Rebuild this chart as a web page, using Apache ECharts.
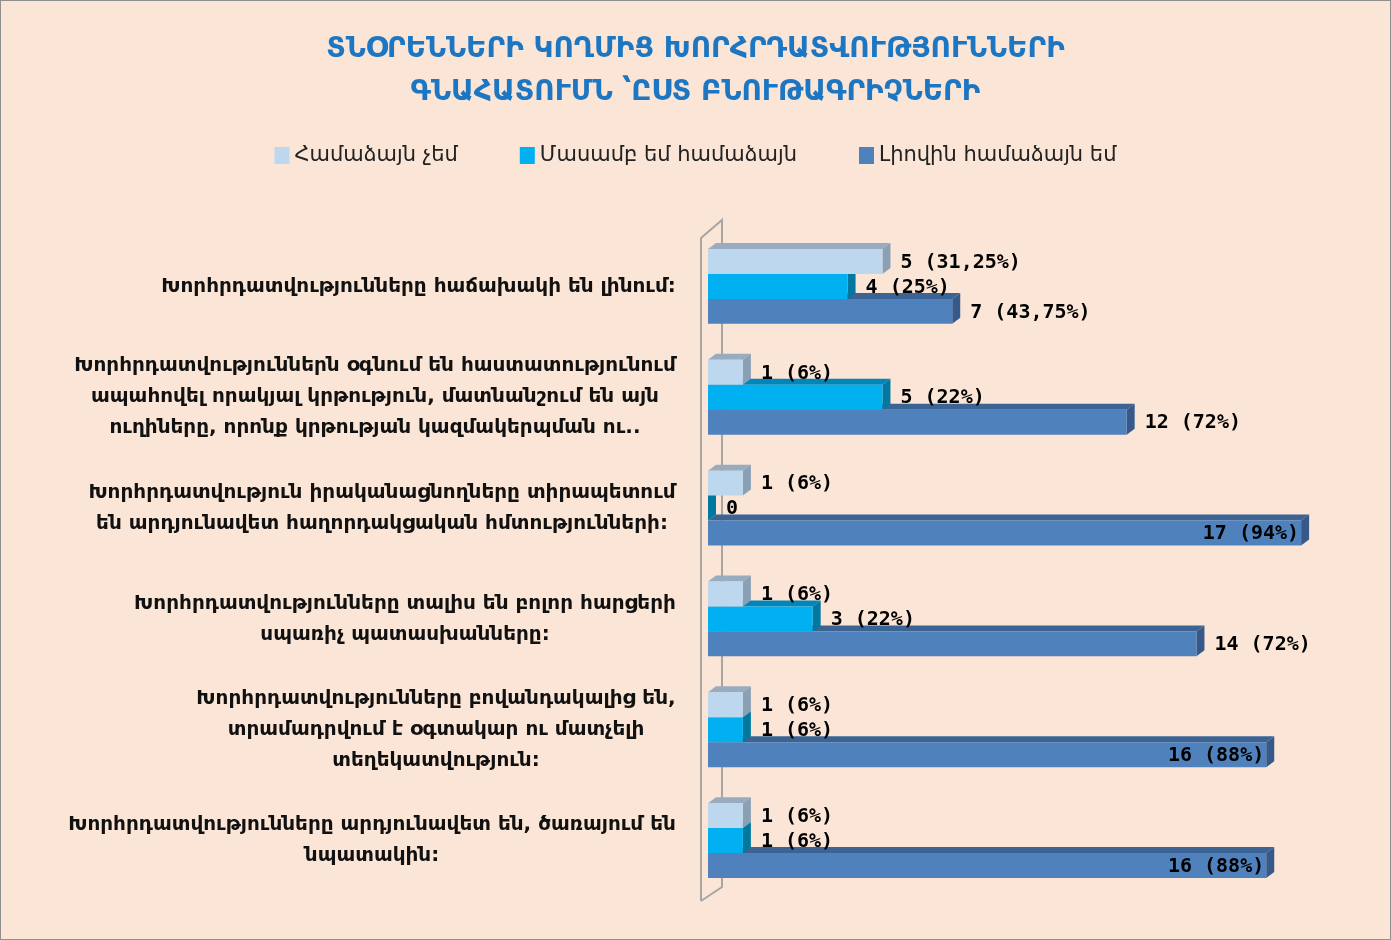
<!DOCTYPE html>
<html>
<head>
<meta charset="utf-8">
<script src="https://cdn.jsdelivr.net/npm/echarts@6/dist/echarts.min.js"></script>
<style>
  html, body { margin: 0; padding: 0; }
  #chart {
    width: 1391px; height: 940px;
    box-sizing: border-box;
    border: 1px solid #8f8f8f;
    background: #fbe5d6;
  }
</style>
</head>
<body>
<div id="chart"></div>
<script>
  // data
  const categories = [
    'Խորհրդատվությունները հաճախակի են լինում:',
    'Խորհրդատվություններն օգնում են հաստատությունում\nապահովել որակյալ կրթություն, մատնանշում են այն\nուղիները, որոնք կրթության կազմակերպման ու..',
    'Խորհրդատվություն իրականացնողները տիրապետում\nեն արդյունավետ հաղորդակցական հմտությունների:',
    'Խորհրդատվությունները տալիս են բոլոր հարցերի\nսպառիչ պատասխանները:',
    'Խորհրդատվությունները բովանդակալից են,\nտրամադրվում է օգտակար ու մատչելի\nտեղեկատվություն:',
    'Խորհրդատվությունները արդյունավետ են, ծառայում են\nնպատակին:'
  ];
  const seriesNames = ['Համաձայն չեմ', 'Մասամբ եմ համաձայն', 'Լիովին համաձայն եմ'];
  const disagree = [5, 1, 1, 1, 1, 1];
  const partly = [4, 5, 0, 3, 1, 1];
  const fully = [7, 12, 17, 14, 16, 16];
  const disagreeLabels = ['5 (31,25%)', '1 (6%)', '1 (6%)', '1 (6%)', '1 (6%)', '1 (6%)'];
  const partlyLabels = ['4 (25%)', '5 (22%)', '0', '3 (22%)', '1 (6%)', '1 (6%)'];
  const fullyLabels = ['7 (43,75%)', '12 (72%)', '17 (94%)', '14 (72%)', '16 (88%)', '16 (88%)'];

  const ARM = "'DejaVu Sans', 'Noto Sans', sans-serif";
  const NUM = "'DejaVu Sans Mono', monospace";
  const DX = 8, DY = 6;

  // widths of category label blocks, so every line can be centred inside its block
  const ctx = document.createElement('canvas').getContext('2d');
  ctx.font = "bold 20px 'DejaVu Sans'";
  const rich = {};
  categories.forEach((c, i) => {
    const w = Math.max(...c.split('\n').map(l => ctx.measureText(l).width));
    rich['c' + i] = {
      width: Math.ceil(w) + 2, align: 'center',
      fontFamily: ARM, fontSize: 20, fontWeight: 'bold',
      lineHeight: 31, color: '#111'
    };
  });

  function makeRender(slot, colors, labels) {
    return function (params, api) {
      const v = api.value(0), c = api.value(1);
      const p0 = api.coord([0, c]);
      const p1 = api.coord([v, c]);
      const band = api.size([0, 1])[1];
      const h = band * 0.225;
      const y = p0[1] - 1.5 * h + slot * h;
      const x0 = p0[0], x1 = p1[0];
      const txt = labels[params.dataIndex];
      const inside = slot === 2 && v >= 15;
      return {
        type: 'group',
        children: [
          { type: 'polygon', shape: { points: [[x0, y], [x0 + DX, y - DY], [x1 + DX, y - DY], [x1, y]] },
            style: { fill: colors[1] } },
          { type: 'polygon', shape: { points: [[x1, y], [x1 + DX, y - DY], [x1 + DX, y + h - DY], [x1, y + h]] },
            style: { fill: colors[2] } },
          { type: 'rect', shape: { x: x0, y: y, width: x1 - x0, height: h },
            style: { fill: colors[0] } },
          { type: 'text', z2: 10,
            style: {
              text: txt,
              x: inside ? x1 - 2 : x1 + DX + 10,
              y: y + h / 2 + 1,
              align: inside ? 'right' : 'left',
              verticalAlign: 'middle',
              fontFamily: NUM, fontWeight: 'bold', fontSize: 20, fill: '#000'
            } }
        ]
      };
    };
  }

  const palette = [
    ['#bdd7ee', '#98abbf', '#8aa0b5'],
    ['#00b0f0', '#0086b8', '#00789f'],
    ['#4f81bd', '#3b6494', '#37598a']
  ];
  const values = [disagree, partly, fully];
  const labelSets = [disagreeLabels, partlyLabels, fullyLabels];

  const myChart = echarts.init(document.getElementById('chart'));

  const GL = 707, GT = 230, GH = 665;

  myChart.setOption({
    backgroundColor: 'transparent',
    title: {
      text: 'ՏՆՕՐԵՆՆԵՐԻ ԿՈՂՄԻՑ ԽՈՐՀՐԴԱՏՎՈՒԹՅՈՒՆՆԵՐԻ\nԳՆԱՀԱՏՈՒՄՆ ՝ԸՍՏ ԲՆՈՒԹԱԳՐԻՉՆԵՐԻ',
      left: 'center',
      top: 22,
      textStyle: {
        fontFamily: ARM, fontSize: 28, fontWeight: 'bold',
        color: '#1c76c2', lineHeight: 43
      }
    },
    legend: {
      top: 139,
      left: 'center',
      itemWidth: 15,
      itemHeight: 17,
      itemGap: 62,
      icon: 'rect',
      data: seriesNames,
      textStyle: { fontFamily: ARM, fontSize: 21, color: '#222' }
    },
    grid: { left: GL, top: GT, height: GH, right: 54 },
    xAxis: { type: 'value', min: 0, max: 18, show: false },
    yAxis: {
      type: 'category',
      inverse: true,
      data: categories,
      axisLine: { show: false },
      axisTick: { show: false },
      axisLabel: {
        margin: 31,
        align: 'right',
        formatter: (val, i) => val.split('\n').map(l => '{c' + i + '|' + l + '}').join('\n'),
        rich: rich
      }
    },
    graphic: [{
      type: 'polyline',
      z: 0,
      shape: { points: [[700, 900], [700, 237], [721, 219], [721, 886], [700, 900]] },
      style: { stroke: '#a6a6a6', lineWidth: 2, fill: null }
    }],
    series: values.map((arr, s) => ({
      name: seriesNames[s],
      type: 'custom',
      z: 4 - s,
      itemStyle: { color: palette[s][0] },
      encode: { x: 0, y: 1 },
      renderItem: makeRender(s, palette[s], labelSets[s]),
      data: arr.map((v, i) => [v, i])
    }))
  });
</script>
</body>
</html>
